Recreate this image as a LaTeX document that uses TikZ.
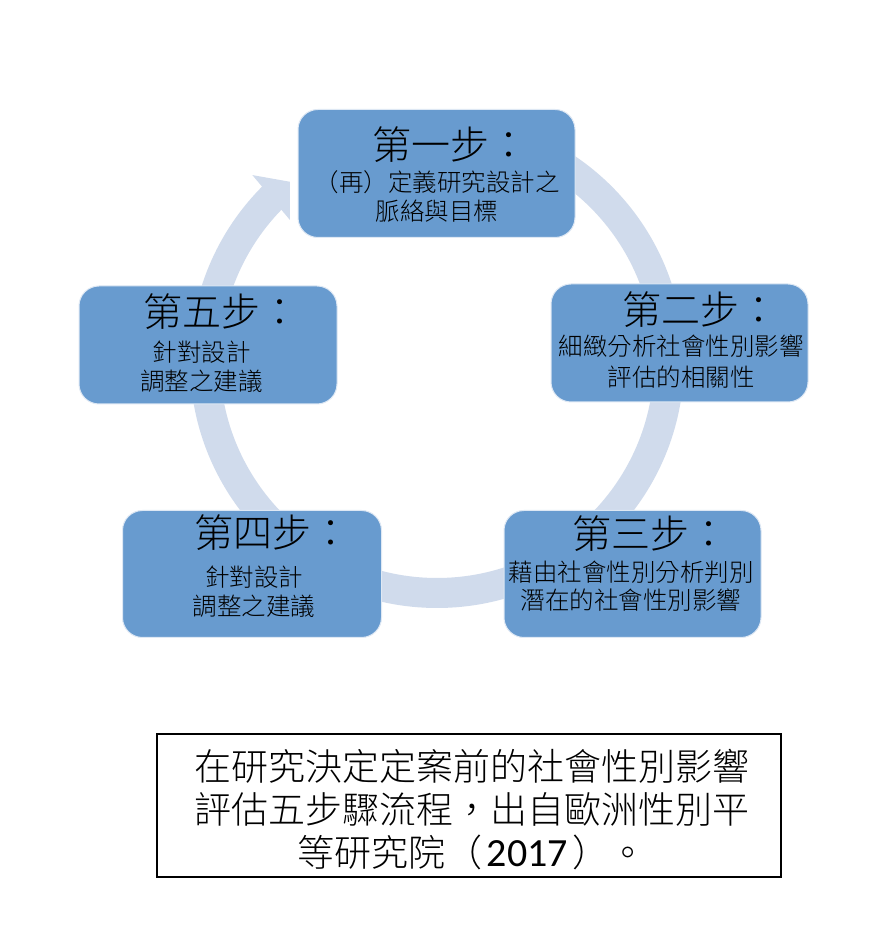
\documentclass[tikz,border=0pt]{standalone}
\usepackage{fontspec}
\setmainfont{Noto Sans CJK TC}[UprightFont={* Light}]
\newfontfamily\latfont{Carlito}
\definecolor{boxblue}{RGB}{104,155,207}
\definecolor{boxedge}{RGB}{222,232,244}
\definecolor{ringblue}{RGB}{208,219,236}
\tikzset{
  stepbox/.style={draw=boxedge, line width=1pt, fill=boxblue, rounded corners=20pt, inner sep=0pt},
  headtxt/.style={inner sep=0pt, font=\fontsize{39}{47}\selectfont},
  bodytxt/.style={inner sep=0pt, align=center, font=\fontsize{24.5}{#1}\selectfont},
  bodytxt/.default=29,
  captxt/.style={inner sep=0pt, align=center, font=\fontsize{37}{43}\selectfont}
}
\begin{document}
\begin{tikzpicture}[x=1pt,y=1pt]
\useasboundingbox (0,0) rectangle (890,946);
\fill[white] (0,0) rectangle (890,946);
\coordinate (c) at (437,585);
% cycle ring with arrowhead
\draw[ringblue, line width=30pt] ([shift={(90:232pt)}]c) arc[start angle=90, end angle=-225.5, radius=232pt];
\fill[ringblue] ([shift={(134.8:262pt)}]c) -- ([shift={(129.4:232pt)}]c) -- ([shift={(136.2:204pt)}]c) -- cycle;
% step boxes
\node[stepbox, minimum width=277pt, minimum height=128pt] (s1) at (436.5,772.5) {};
\node[stepbox, minimum width=257pt, minimum height=118pt] (s2) at (679.5,603) {};
\node[stepbox, minimum width=257pt, minimum height=127pt] (s3) at (632.5,372) {};
\node[stepbox, minimum width=259pt, minimum height=127pt] (s4) at (252,372) {};
\node[stepbox, minimum width=258pt, minimum height=118pt] (s5) at (208,601) {};
% texts
\node[headtxt] (s1h) at (450.5,801.5) {第一步：};
\node[bodytxt=28.5] (s1b) at (437,749.5) {（再）定義研究設計之\\脈絡與目標};
\node[headtxt] (s2h) at (700.5,636) {第二步：};
\node[bodytxt=31] (s2b) at (681,584) {細緻分析社會性別影響\\評估的相關性};
\node[headtxt] (s3h) at (650.5,412) {第三步：};
\node[bodytxt=28] (s3b) at (631,359.5) {藉由社會性別分析判別\\潛在的社會性別影響};
\node[headtxt] (s4h) at (272,413.5) {第四步：};
\node[bodytxt] (s4b) at (254,354.5) {針對設計\\調整之建議};
\node[headtxt] (s5h) at (221.5,634.5) {第五步：};
\node[bodytxt] (s5b) at (201.5,579.5) {針對設計\\調整之建議};
% caption
\node[draw=black, line width=1.5pt, fill=white, minimum width=624pt, minimum height=143pt, inner sep=0pt] (cap) at (469,140.5) {};
\node[captxt] (capt) at (472,136) {在研究決定定案前的社會性別影響\\評估五步驟流程，出自歐洲性別平\\等研究院（\hspace{4pt}{\latfont\fontsize{40}{43}\selectfont 2017}\hspace{4pt}）。};
\end{tikzpicture}
\end{document}
